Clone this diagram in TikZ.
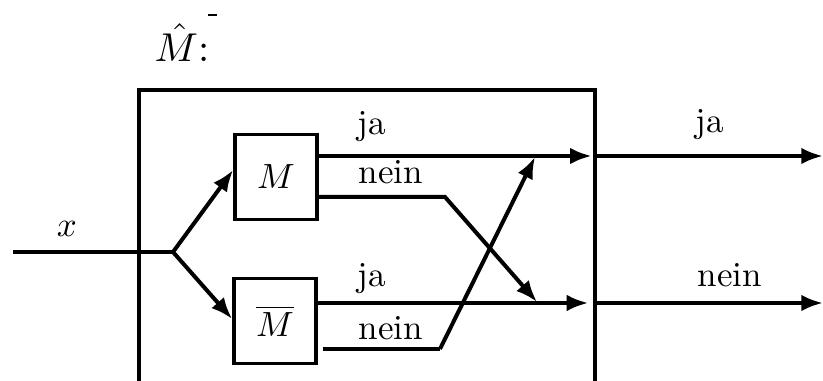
\documentclass[tikz,border=0pt]{standalone}
\usetikzlibrary{arrows.meta,calc}
\begin{document}
\begin{tikzpicture}[x=0.3pt,y=-0.3pt,
  wire/.style={line width=1.2pt,line join=miter},
  arr/.style={wire,-{Latex[length=6.5pt,width=5pt]}},
  mbox/.style={draw,line width=1.1pt,minimum width=24.6pt,minimum height=25.5pt,inner sep=0pt},
  lab/.style={anchor=base,inner sep=0pt,scale=1.05}]
\useasboundingbox (0,0) rectangle (823,381);
% outer machine box (open at bottom)
\coordinate (bl) at (139,381);
\coordinate (tl) at (139,90);
\coordinate (tr) at (595,90);
\coordinate (br) at (595,381);
\draw[line width=1pt] (bl) -- (tl) -- (tr) -- (br);
\draw[line width=0.7pt] (208,15) -- (217,15);
\node[lab,scale=1.15] (mhat) at (182,62) {$\hat{M}$:};
% inner machines
\node[mbox] (M) at (276,177) {\scalebox{1.05}{$M$}};
\node[mbox] (Mb) at (275,321) {\scalebox{1.05}{$\overline{M}$}};
% input
\coordinate (s) at (13,252);
\coordinate (b) at (173,252);
\node[lab] (xl) at (67,237) {$x$};
\draw[wire] (s) -- (b);
\draw[arr] (b) -- (M.west |- 0,170);
\draw[arr] (b) -- (Mb.west |- 0,319);
% M outputs
\coordinate (o1) at (595,156);
\coordinate (e1) at (823,156);
\coordinate (k1) at (445,197);
\coordinate (t1) at (537,302);
\draw[arr] (M.east |- o1) -- ([xshift=-1pt]o1);
\draw[arr] (o1) -- (e1);
\draw[arr] (M.east |- k1) -- (k1) -- (t1);
% Mbar outputs
\coordinate (o2) at (595,303);
\coordinate (e2) at (823,303);
\coordinate (k2) at (440,349);
\coordinate (t2) at (535,157);
\draw[arr] (Mb.east |- o2) -- ([xshift=-2pt]o2);
\draw[arr] (o2) -- (e2);
\draw[wire] ([xshift=1.5pt]Mb.east |- k2) -- (k2);
\draw[arr] (k2) -- (t2);
% labels
\node[lab] (ja1) at (372,135) {ja};
\node[lab] (ne1) at (391,184) {nein};
\node[lab] (ja2) at (372,287) {ja};
\node[lab] (ne2) at (391,340) {nein};
\node[lab] (ja3) at (710,133) {ja};
\node[lab] (ne3) at (730,287) {nein};
\end{tikzpicture}
\end{document}
